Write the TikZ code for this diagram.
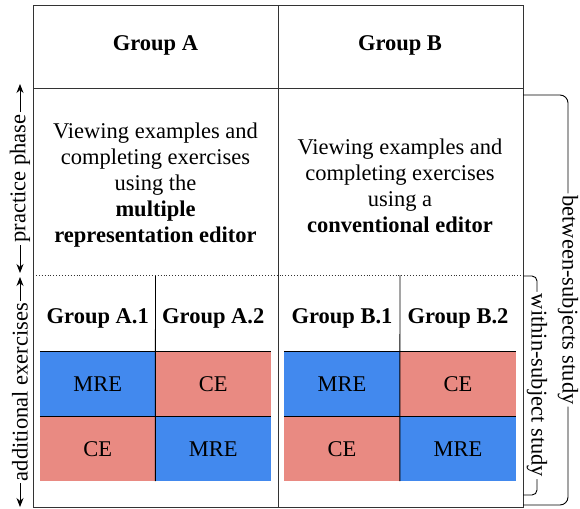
\documentclass[tikz,border=0pt]{standalone}
\usepackage{fontspec}
\setmainfont{Liberation Serif}
\usetikzlibrary{arrows.meta}
\definecolor{mreblue}{RGB}{66,137,238}
\definecolor{cered}{RGB}{233,138,130}
\begin{document}
\begin{tikzpicture}[x=1pt,y=-1pt,
  frame/.style={draw=black!80, line width=1pt},
  rule/.style={draw=black, line width=0.9pt},
  txt/.style={font=\fontsize{22.5}{26}\selectfont, align=center, inner sep=0pt},
  hdr/.style={font=\fontsize{22.5}{26}\selectfont\bfseries, align=center, inner sep=0pt},
  cellA/.style={txt, minimum width=115.5pt, minimum height=64.5pt},
  cellB/.style={txt, minimum width=116pt, minimum height=64.5pt},
  mre/.style={fill=mreblue},
  ce/.style={fill=cered},
  phase/.style={draw=black, line width=0.9pt, {Stealth[length=9pt,width=7pt]}-{Stealth[length=9pt,width=7pt]}},
  sidelbl/.style={txt, fill=white, inner sep=2pt},
  bracket/.style={draw=black, line width=0.9pt},
]
\useasboundingbox (0,0) rectangle (580,508);

% colored cells of the within-subject design
\node[cellA, mre] (a11) at (97.75,384.25) {MRE};
\node[cellA, ce]  (a12) at (213.25,384.25) {CE};
\node[cellA, ce]  (a21) at (97.75,448.75) {CE};
\node[cellA, mre] (a22) at (213.25,448.75) {MRE};
\node[cellB, mre] (b11) at (342,384.25) {MRE};
\node[cellB, ce]  (b12) at (458,384.25) {CE};
\node[cellB, ce]  (b21) at (342,448.75) {CE};
\node[cellB, mre] (b22) at (458,448.75) {MRE};

% lines between cells
\draw[rule] (a11.north west) -- (a12.north east);
\draw[rule] (a21.north west) -- (a22.north east);
\draw[rule] (b11.north west) -- (b12.north east);
\draw[rule] (b21.north west) -- (b22.north east);
\draw[rule] (155.5,275) -- (a22.south west);
\draw[rule] (400,275) -- (b22.south west);

% outer frame and group columns
\coordinate (tl) at (33,6);
\coordinate (br) at (523,507);
\draw[frame] (tl) rectangle (br);
\draw[frame] (278,6) -- (278,507);
\draw[frame] (33,89) -- (523,89);
\draw[black!80, line width=0.9pt, dotted] (33,275) -- (523,275);

% headers
\node[hdr] (ga) at (155.5,45) {Group A};
\node[hdr] (gb) at (400,45) {Group B};
\node[hdr] (ga1) at (97.75,318) {Group A.1};
\node[hdr] (ga2) at (213.25,318) {Group A.2};
\node[hdr] (gb1) at (342,318) {Group B.1};
\node[hdr] (gb2) at (458,318) {Group B.2};

% practice phase descriptions
\node[txt] (pa) at (155.5,185) {Viewing examples and\\completing exercises\\using the\\\textbf{multiple}\\\textbf{representation editor}};
\node[txt] (pb) at (400,186) {Viewing examples and\\completing exercises\\using a\\\textbf{conventional editor}};

% phase arrows on the left
\coordinate (p1) at (20,84);
\coordinate (p2) at (20,273);
\coordinate (e1) at (20,277);
\coordinate (e2) at (20,507);
\draw[phase] (p2) -- node[sidelbl, rotate=90] (lp) {practice phase} (p1);
\draw[phase] (e2) -- node[sidelbl, rotate=90] (le) {additional exercises} (e1);

% study brackets on the right
\coordinate (bs1) at (523,95);
\coordinate (bs2) at (568,95);
\coordinate (bs3) at (568,505);
\coordinate (bs4) at (523,505);
\draw[bracket, rounded corners=8pt] (bs1) -- (bs2) -- node[sidelbl, rotate=-90] (lbs) {between-subjects study} (bs3) -- (bs4);
\coordinate (ws1) at (523,276);
\coordinate (ws2) at (537,276);
\coordinate (ws3) at (537,495);
\coordinate (ws4) at (523,495);
\draw[bracket, rounded corners=5pt] (ws1) -- (ws2) -- node[sidelbl, rotate=-90] (lws) {within-subject study} (ws3) -- (ws4);
\end{tikzpicture}
\end{document}
